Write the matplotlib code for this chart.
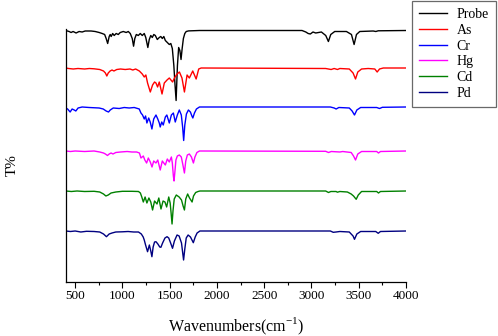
import matplotlib
matplotlib.use("Agg")
import matplotlib.pyplot as plt

plt.rcParams['font.family'] = ['Liberation Serif', 'DejaVu Serif']
plt.rcParams['mathtext.fontset'] = 'custom'
plt.rcParams['mathtext.rm'] = 'Liberation Serif'

labels = ["Probe", "As", "Cr", "Hg", "Cd", "Pd"]
colors = ["#000000", "#ff0000", "#0000ff", "#ff00ff", "#008000", "#000080"]

probe = [(400,100),(436,99),(457,98),(478,99),(510,97.5),(542,99),(574,98.5),(606,99.5),(669,99.5),(712,99),
         (754,98),(786,97),(812,96),(828,92),(844,87),(860,94),(871,96),(881,94),(897,97),(913,95),(934,97),
         (956,96),(977,98),(1009,99),(1040,98),(1062,99),(1083,97),(1104,92),(1118,84.3),(1131,92),(1147,96),
         (1168,95),(1189,97),(1210,95),(1231,97),(1247,93),(1269,83),(1284,91),(1300,95),(1316,93),(1332,96),
         (1348,95),(1369,91),(1390,93),(1406,94),(1422,92),(1438,94),(1454,90),(1475,88),(1496,86),(1512,87),
         (1528,82),(1544,65),(1557,45),(1568,30),(1582,65),(1595,83),(1608,80),(1620,71),(1632,82),(1645,92),
         (1660,97),(1675,99),(1700,99.6),(1815,100),(2900,100),(2940,98.5),(2965,97),(2988,96.5),(3016,98.5),
         (3045,97.5),(3105,98.5),(3151,95),(3179,89),(3204,96),(3246,99),(3370,99),(3423,96),(3451,86),
         (3476,96),(3511,99),(3653,99.5),(3681,99),(3706,99.7),(4000,100)]

arsenic = [(400,100),(430,99.5),(480,99),(530,99.5),(600,99),(650,99.5),(700,99.2),(760,98.5),(800,97),(820,95),
           (835,92),(850,95),(870,97),(890,98),(910,97),(940,98.5),(980,99),(1030,98.5),(1080,99),(1110,98),
           (1140,99),(1179,97),(1210,94),(1231,91),(1248,93),(1266,85),(1295,76),(1319,83),(1340,86),(1355,85),
           (1372,81),(1390,86),(1419,74),(1443,85),(1472,88),(1496,90),(1531,86),(1550,90),(1578,94),(1603,96),
           (1630,90),(1656,76),(1684,93),(1708,90),(1744,97),(1780,89),(1807,99),(1833,100),(3150,99.5),
           (3208,98.5),(3240,99.5),(3275,98.5),(3300,99.5),(3400,99),(3440,95),(3466,89),(3490,96),(3530,99),
           (3600,99.5),(3670,99),(3695,96),(3720,99),(3760,100),(4000,100)]

chromium = [(400,99),(420,98),(447,95),(468,98),(490,97),(507,96),(531,99),(574,100),(648,99.5),(754,99),
            (797,98),(828,96),(853,95),(871,97),(903,99),(966,98.5),(1019,99.5),(1072,99),(1125,99.5),(1178,98),
            (1196,94),(1213,92),(1231,88),(1245,91),(1259,84),(1278,89),(1294,85),(1312,78),(1331,88),(1355,92),
            (1374,88),(1390,84),(1400,80),(1416,85),(1432,82),(1454,90),(1470,92),(1496,84),(1518,92),(1539,94),
            (1559,85),(1581,92),(1602,97),(1623,92),(1637,80),(1648,66.5),(1660,82),(1677,93),(1698,97),(1719,95),
            (1735,91),(1745,89),(1762,94),(1783,98),(1815,100),(3200,100),(3240,99),(3261,98),(3290,99.5),
            (3400,99),(3430,96),(3455,92),(3480,97),(3520,99.5),(3690,99.5),(3720,98.5),(3750,99.7),(4000,100)]

mercury = [(400,100),(450,99.5),(500,100),(600,99.5),(700,100),(760,99),(800,98),(820,97),(842,95.5),(860,97),
           (880,98),(900,97),(930,98.5),(980,99),(1050,99.5),(1100,99),(1150,99),(1180,98),(1196,93),(1221,95),
           (1237,91),(1256,88),(1274,93),(1295,89),(1313,84),(1331,90),(1355,88),(1374,91),(1400,81),(1422,90),
           (1454,86),(1475,92),(1496,89),(1518,94),(1528,88),(1539,75),(1546,70),(1554,78),(1566,91),(1581,95),
           (1602,96),(1623,94),(1640,86),(1656,78),(1670,90),(1687,96),(1708,97),(1730,94),(1751,88),(1767,94),
           (1788,98.5),(1815,100),(3150,99.7),(3180,98.5),(3210,99.5),(3300,99),(3330,99.5),(3420,98.5),
           (3445,95),(3466,91),(3490,97),(3530,99.5),(3690,99.5),(3709,98),(3730,99.5),(4000,100)]

cadmium = [(400,100),(460,99.5),(520,100),(600,99.5),(700,99.7),(760,99),(800,97),(825,95),(850,96),(880,98),
           (930,99),(1000,99.7),(1100,99.7),(1170,99.5),(1190,98),(1205,94),(1221,89),(1240,94),(1259,88),
           (1280,93),(1300,89),(1319,81),(1340,90),(1366,87),(1385,93),(1408,82),(1430,90),(1450,89),(1468,84),
           (1490,94),(1505,88),(1515,78),(1525,67),(1535,80),(1548,92),(1570,96),(1600,94),(1625,91),(1642,85),
           (1656,81),(1670,92),(1690,97),(1710,93),(1737,89),(1752,95),(1775,98.5),(1800,99.5),(1820,100),
           (3150,100),(3180,98.5),(3205,99.5),(3260,99.5),(3275,98.8),(3300,99.5),(3380,99),(3420,97),
           (3445,95),(3473,91.7),(3495,96),(3530,99.5),(3690,99.5),(3709,98),(3730,99.5),(4000,100)]

palladium = [(400,100),(450,99.5),(500,100),(560,99),(620,99.7),(700,99.5),(760,99),(800,97),(831,94.3),(860,97),
             (890,98),(930,99),(1000,99.2),(1060,99.5),(1120,99),(1170,99),(1200,97),(1220,94),(1231,91),
             (1245,86),(1266,79.3),(1285,86),(1300,80),(1312,74.3),(1325,84),(1340,89),(1355,89.3),(1375,87),
             (1395,84),(1407,83.7),(1425,88),(1450,93),(1472,94.3),(1490,93),(1510,88),(1530,82.7),(1550,90),
             (1578,96),(1600,95),(1625,88),(1647,71),(1660,82),(1675,93),(1695,96),(1720,94),(1750,88.3),
             (1770,94),(1790,98),(1820,100),(3200,100),(3230,98.7),(3260,99),(3300,99.5),(3400,99),(3440,95),
             (3455,91.7),(3480,97),(3520,99.5),(3680,99.5),(3706,97.7),(3730,99.5),(4000,100)]

series = [probe, arsenic, chromium, mercury, cadmium, palladium]
offsets = [151.5, 114, 75, 31, -9, -49]

fig = plt.figure(figsize=(4.98, 3.36), dpi=100)
ax = fig.add_axes([65.7/498, 1 - 282/336, (406 - 65.7)/498, (282 - 29)/336])

for data, off, c, lab in zip(series, offsets, colors, labels):
    x = [p[0] for p in data]
    y = [p[1] + off for p in data]
    ax.plot(x, y, color=c, lw=1.0, label=lab)

ax.set_xlim(400, 4000)
ax.set_ylim(0, 253)
ax.set_xticks([500, 1000, 1500, 2000, 2500, 3000, 3500, 4000])
ax.set_xticks([750, 1250, 1750, 2250, 2750, 3250, 3750], minor=True)
ax.set_yticks([])
ax.tick_params(axis='x', which='major', direction='out', length=4, width=0.8, labelsize=9.5, pad=2)
ax.tick_params(axis='x', which='minor', direction='out', length=2.5, width=0.8)
for s in ['top', 'right']:
    ax.spines[s].set_visible(False)
for s in ['left', 'bottom']:
    ax.spines[s].set_linewidth(0.9)

ax.set_xlabel('Wavenumbers(cm$^{-1}$)', fontsize=11.5, labelpad=10)
fig.text(12/498, 1 - 165/336, 'T%', rotation=90, fontsize=11, ha='center', va='center')

leg = fig.legend(loc='upper left', bbox_to_anchor=(412/498, 1 - 1/336), fontsize=10,
                 frameon=True, fancybox=False, edgecolor='#444444', borderaxespad=0,
                 labelspacing=0.2, handlelength=2.0, handletextpad=0.7, borderpad=0.5)
leg.get_frame().set_linewidth(0.9)

fig.savefig('out.png', dpi=100)
